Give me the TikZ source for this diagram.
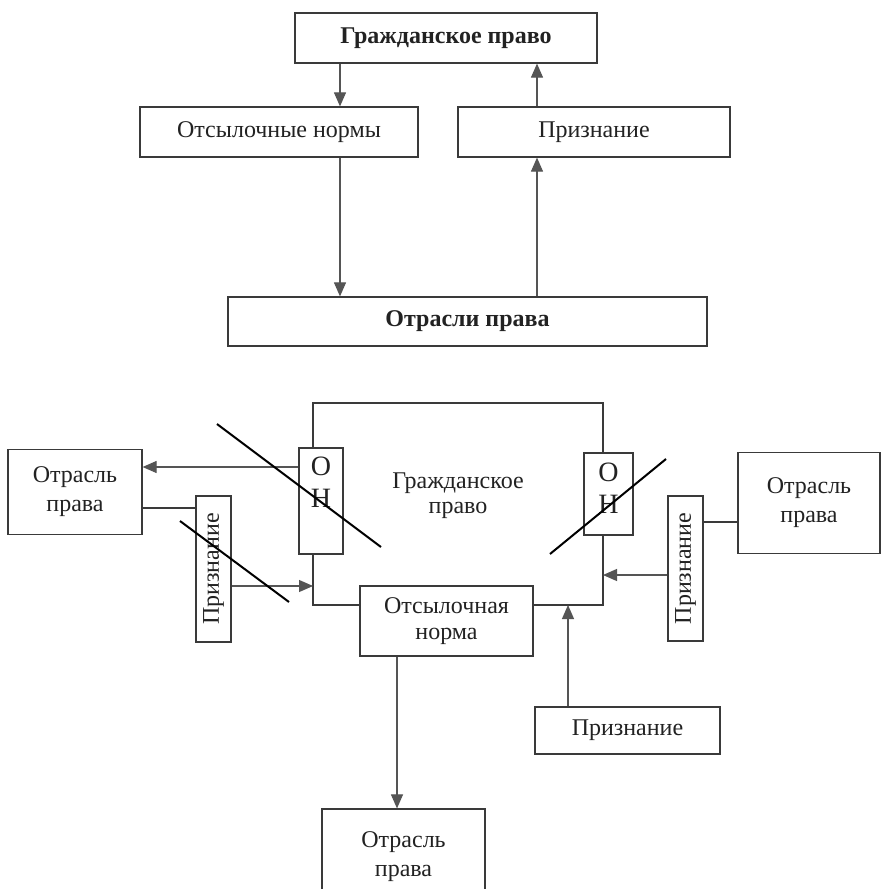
\documentclass[tikz,border=0pt]{standalone}
\usepackage{fontspec}
\setmainfont{Liberation Serif}
\usetikzlibrary{arrows.meta}
\definecolor{lncol}{HTML}{3A3A3A}
\definecolor{arcol}{HTML}{555555}
\definecolor{txcol}{HTML}{222222}
\begin{document}
\begin{tikzpicture}[x=1pt,y=-1pt,
  box/.style={draw=lncol, line width=1.2pt, inner sep=0pt, align=center, text=txcol,
    font=\fontsize{24}{29}\selectfont},
  bbox/.style={box, font=\fontsize{24}{29}\selectfont\bfseries},
  txt/.style={inner sep=0pt, align=center, text=txcol, font=\fontsize{24}{25}\selectfont},
  ontxt/.style={inner sep=0pt, align=center, text=txcol, font=\fontsize{28}{32}\selectfont},
  arr/.style={draw=arcol, line width=1.1pt, -{Triangle[length=14pt,width=12pt]}},
  conn/.style={draw=lncol, line width=1.1pt},
  strike/.style={draw=black, line width=2pt}]
\clip (0,0) rectangle (881,889);
\useasboundingbox (0,0) rectangle (881,889);
\fill[white] (0,0) rectangle (881,889);

% ---------- top part ----------
\node[bbox, minimum width=302pt, minimum height=50pt] (gp) at (446,38) {Гражданское право};
\node[box, minimum width=278pt, minimum height=50pt] (on) at (279,132) {Отсылочные нормы};
\node[box, minimum width=272pt, minimum height=50pt] (pr) at (594,132) {Признание};
\node[bbox, minimum width=479pt, minimum height=49pt] (op) at (467.5,321.5) {Отрасли права};

\coordinate (xa) at (340,0);
\coordinate (xb) at (537,0);
\draw[arr] (gp.south -| xa) -- (on.north -| xa);
\draw[arr] (pr.north -| xb) -- (gp.south -| xb);
\draw[arr] (on.south -| xa) -- (op.north -| xa);
\draw[arr] (op.north -| xb) -- (pr.south -| xb);

% ---------- bottom part ----------
\node[box, minimum width=44pt, minimum height=106pt] (ONL) at (321,501) {};
\node[ontxt] (ONLt) at (321,482) {О\\Н};
\node[box, minimum width=49pt, minimum height=82pt] (ONR) at (608.5,494) {};
\node[ontxt] (ONRt) at (608.5,488) {О\\Н};
\node[txt] (gpt) at (458,496) {Гражданское\\право};

\node[box, minimum width=134pt, minimum height=85pt] (OtL) at (75,492) {Отрасль\\права};
\node[box, minimum width=35pt, minimum height=146pt] (PrL) at (213.5,569) {\rotatebox{90}{Признание}};
\node[box, minimum width=35pt, minimum height=145pt] (PrR) at (685.5,568.5) {\rotatebox{90}{Признание}};
\node[box, minimum width=142pt, minimum height=101pt] (OtR) at (809,503) {Отрасль\\права};
\node[box, minimum width=173pt, minimum height=70pt, font=\fontsize{24}{26}\selectfont] (ONorm) at (446.5,621) {Отсылочная\\норма};
\node[box, minimum width=163pt, minimum height=96pt] (OtB) at (403.5,857) {Отрасль\\права};
\node[box, minimum width=185pt, minimum height=47pt] (PrB) at (627.5,730.5) {Признание};

% frame of civil law
\coordinate (ftl) at (313,403);
\coordinate (ftr) at (603,403);
\coordinate (fbl) at (313,605);
\coordinate (fbr) at (603,605);
\draw[conn] (ONL.north -| ftl) -- (ftl) -- (ftr) -- (ONR.north -| ftr);
\draw[conn] (ONL.south -| ftl) -- (fbl) -- (ONorm.west |- fbl);
\draw[conn] (ONR.south -| ftr) -- (fbr) -- (ONorm.east |- fbr);

% connectors
\coordinate (y1) at (0,467);
\coordinate (y2) at (0,508);
\coordinate (y3) at (0,586);
\coordinate (y4) at (0,575);
\coordinate (y5) at (0,522);
\coordinate (x1) at (397,0);
\coordinate (x2) at (568,0);
\draw[arr] (ONL.west |- y1) -- (OtL.east |- y1);
\draw[conn] (OtL.east |- y2) -- (PrL.west |- y2);
\draw[arr] (PrL.east |- y3) -- (ftl |- y3);
\draw[arr] (PrR.west |- y4) -- (ftr |- y4);
\draw[conn] (PrR.east |- y5) -- (OtR.west |- y5);
\draw[arr] (ONorm.south -| x1) -- (OtB.north -| x1);
\draw[arr] (PrB.north -| x2) -- (fbr -| x2);

% strike-through lines
\coordinate (s1a) at (217,424);
\coordinate (s1b) at (381,547);
\coordinate (s2a) at (180,521);
\coordinate (s2b) at (289,602);
\coordinate (s3a) at (550,554);
\coordinate (s3b) at (666,459);
\draw[strike] (s1a) -- (s1b);
\draw[strike] (s2a) -- (s2b);
\draw[strike] (s3a) -- (s3b);
\end{tikzpicture}
\end{document}
